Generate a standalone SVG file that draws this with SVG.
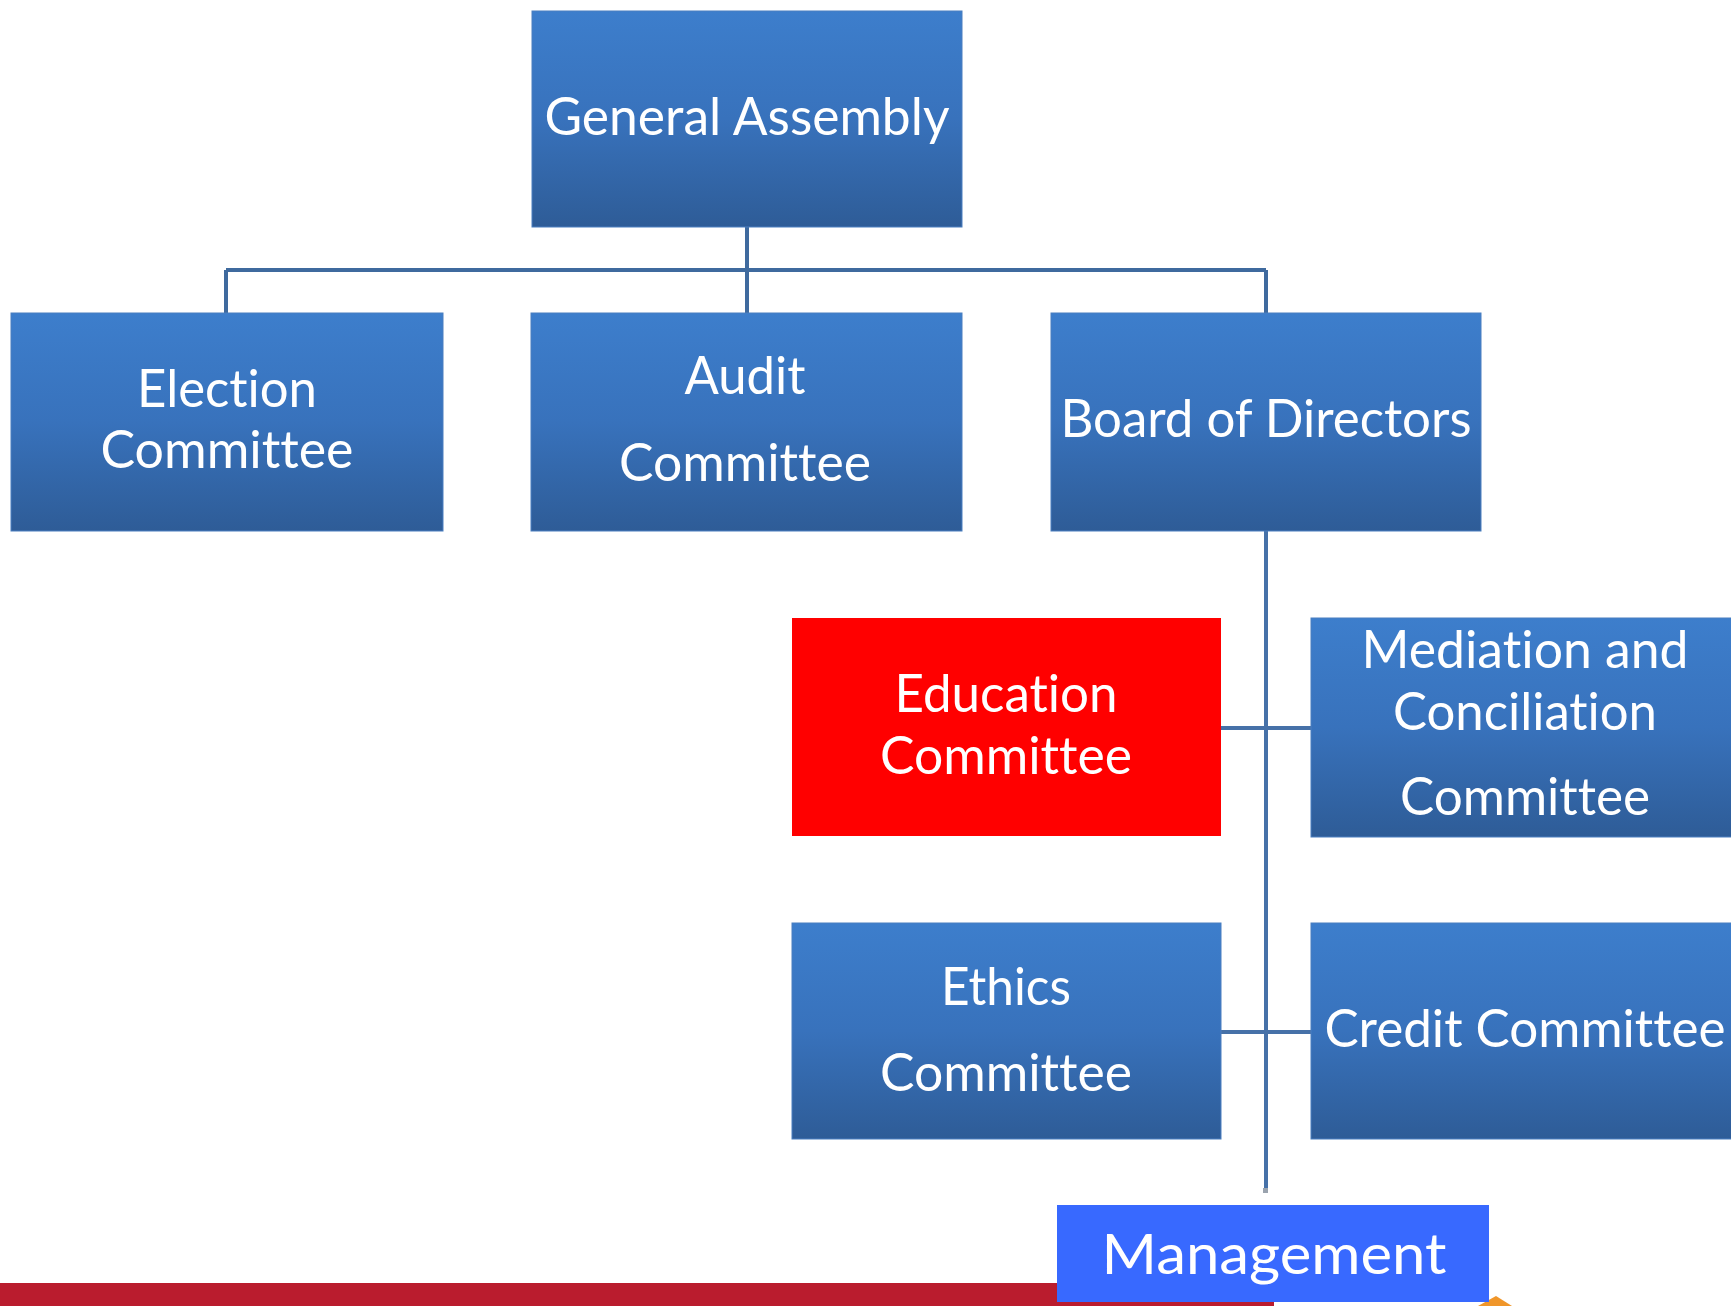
<svg xmlns="http://www.w3.org/2000/svg" width="1731" height="1306" viewBox="0 0 1731 1306">
<defs>
<linearGradient id="bg" x1="0" y1="0" x2="0" y2="1">
<stop offset="0" stop-color="#3D7ECC"/>
<stop offset="0.5" stop-color="#3872BC"/>
<stop offset="1" stop-color="#2E5C97"/>
</linearGradient>
<style>
.box{fill:url(#bg);stroke:#4A7FC0;stroke-width:1}
.t{font-family:Lato,"Liberation Sans",sans-serif;font-size:52px;fill:#FFFFFF;text-anchor:middle;font-variant-ligatures:none;font-feature-settings:"liga" 0,"dlig" 0}
.c{fill:none;stroke:#4671A8;stroke-width:4}
</style>
</defs>
<rect width="1731" height="1306" fill="#FFFFFF"/>
<rect x="0" y="1283" width="1274" height="23" fill="#BA1C2E"/>
<polygon points="1478,1306 1496,1296 1512,1306" fill="#F0962A"/>
<g id="connectors">
<path class="c" d="M747,227 V270 M226,270 H1266 M226,270 V313 M747,270 V313 M1266,270 V313" style="stroke:#3F6A9E"/>
<path class="c" d="M1266,531 V1192 M1221,728 H1311 M1221,1032 H1311"/>
<rect x="1263" y="1188" width="5" height="5" fill="#9AA3AE"/>
</g>
<g id="general-assembly">
<rect class="box" x="532" y="11" width="430" height="216"/>
<text class="t" x="747" y="135" textLength="405" lengthAdjust="spacingAndGlyphs">General Assembly</text>
</g>
<g id="election">
<rect class="box" x="11" y="313" width="432" height="218"/>
<text class="t" x="227" y="407" textLength="180" lengthAdjust="spacingAndGlyphs">Election</text>
<text class="t" x="227" y="468" textLength="253" lengthAdjust="spacingAndGlyphs">Committee</text>
</g>
<g id="audit">
<rect class="box" x="531" y="313" width="431" height="218"/>
<text class="t" x="745" y="394" textLength="121" lengthAdjust="spacingAndGlyphs">Audit</text>
<text class="t" x="745" y="481" textLength="252" lengthAdjust="spacingAndGlyphs">Committee</text>
</g>
<g id="board">
<rect class="box" x="1051" y="313" width="430" height="218"/>
<text class="t" x="1266" y="437" textLength="411" lengthAdjust="spacingAndGlyphs">Board of Directors</text>
</g>
<g id="education">
<rect x="792" y="618" width="429" height="218" fill="#FF0000"/>
<text class="t" x="1006" y="712" textLength="223" lengthAdjust="spacingAndGlyphs">Education</text>
<text class="t" x="1006" y="774" textLength="252" lengthAdjust="spacingAndGlyphs">Committee</text>
</g>
<g id="mediation">
<rect class="box" x="1311" y="618" width="430" height="219"/>
<text class="t" x="1525" y="668" textLength="327" lengthAdjust="spacingAndGlyphs">Mediation and</text>
<text class="t" x="1525" y="730" textLength="264" lengthAdjust="spacingAndGlyphs">Conciliation</text>
<text class="t" x="1525" y="815" textLength="250" lengthAdjust="spacingAndGlyphs">Committee</text>
</g>
<g id="ethics">
<rect class="box" x="792" y="923" width="429" height="216"/>
<text class="t" x="1006" y="1005" textLength="130" lengthAdjust="spacingAndGlyphs">Ethics</text>
<text class="t" x="1006" y="1091" textLength="252" lengthAdjust="spacingAndGlyphs">Committee</text>
</g>
<g id="credit">
<rect class="box" x="1311" y="923" width="430" height="216"/>
<text class="t" x="1525" y="1047" textLength="401" lengthAdjust="spacingAndGlyphs">Credit Committee</text>
</g>
<g id="management">
<rect x="1057" y="1205" width="432" height="97" fill="#3869FF"/>
<text class="t" x="1274" y="1274" style="font-size:57px" textLength="345" lengthAdjust="spacingAndGlyphs">Management</text>
</g>
</svg>
